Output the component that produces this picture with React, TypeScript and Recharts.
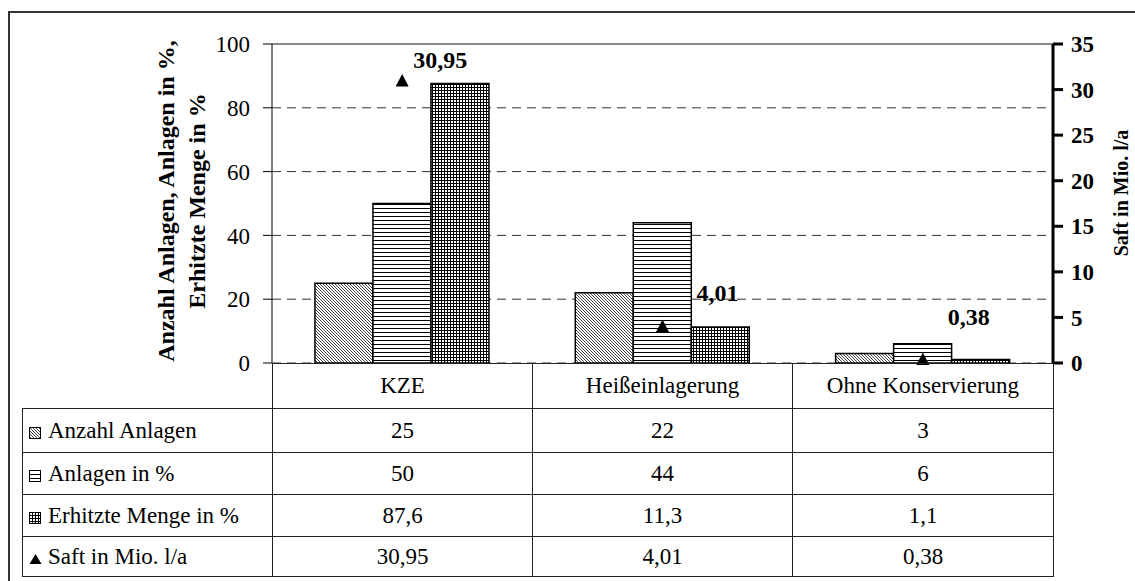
import React from "react";
import {
  ComposedChart,
  Bar,
  Line,
  XAxis,
  YAxis,
  CartesianGrid,
  ReferenceLine,
  LabelList,
} from "recharts";

const CATEGORIES = ["KZE", "Heißeinlagerung", "Ohne Konservierung"];
const ANZAHL_ANLAGEN = [25, 22, 3];
const ANLAGEN_PROZENT = [50, 44, 6];
const ERHITZTE_MENGE = [87.6, 11.3, 1.1];
const SAFT = [30.95, 4.01, 0.38];
const LEFT_TICKS = [0, 20, 40, 60, 80, 100];
const RIGHT_TICKS = [0, 5, 10, 15, 20, 25, 30, 35];

const SERIES_NAMES = [
  "Anzahl Anlagen",
  "Anlagen in %",
  "Erhitzte Menge in %",
  "Saft in Mio. l/a",
];

// hand-placed data labels (offset from the marker), like in the original sheet
const LABEL_OFFSETS = [
  { dx: 11, dy: -21 },
  { dx: 34, dy: -34 },
  { dx: 25, dy: -43 },
];

const FONT = "'Liberation Serif', 'Times New Roman', serif";

const data = CATEGORIES.map((name, i) => ({
  name,
  anzahl: ANZAHL_ANLAGEN[i],
  anlagen: ANLAGEN_PROZENT[i],
  erhitzt: ERHITZTE_MENGE[i],
  saft: SAFT[i],
}));

const fmt = (v: number) => String(v).replace(".", ",");

const Triangle = (props: any) => {
  const { cx, cy } = props;
  if (cx == null || cy == null) return null;
  return (
    <path
      d={`M${cx},${cy - 7} L${cx + 6.5},${cy + 5.5} L${cx - 6.5},${cy + 5.5} Z`}
      fill="#000"
    />
  );
};

const SaftLabel = (props: any) => {
  const { x, y, value, index } = props;
  const off = LABEL_OFFSETS[index] || { dx: 10, dy: -20 };
  return (
    <text
      x={x + off.dx}
      y={y + off.dy}
      dy="0.35em"
      fontFamily={FONT}
      fontWeight="bold"
      fontSize={24}
      fill="#000"
    >
      {fmt(value)}
    </text>
  );
};

const Swatch = ({ idx }: { idx: number }) => {
  if (idx === 3) {
    return (
      <svg width={13} height={12} style={{ marginRight: 6, verticalAlign: "-1px" }}>
        <path d="M6.5,1 L12.5,11 L0.5,11 Z" fill="#000" />
      </svg>
    );
  }
  const fills = ["url(#pDiag)", "url(#pHoriz)", "url(#pGrid)"];
  return (
    <svg width={13} height={12} style={{ marginRight: 6, verticalAlign: "-1px" }}>
      <rect x={0.5} y={0.5} width={11} height={11} fill={fills[idx]} stroke="#000" />
    </svg>
  );
};

const RotatedTitle = ({
  cx,
  cy,
  w,
  h,
  lines,
  size,
}: {
  cx: number;
  cy: number;
  w: number;
  h: number;
  lines: string[];
  size: number;
}) => (
  <div
    style={{
      position: "absolute",
      left: cx - w / 2,
      top: cy - h / 2,
      width: w,
      height: h,
      transform: "rotate(-90deg)",
      fontFamily: FONT,
      fontWeight: "bold",
      fontSize: size,
      lineHeight: `${h / lines.length}px`,
      textAlign: "center",
      whiteSpace: "nowrap",
    }}
  >
    {lines.map((l) => (
      <div key={l}>{l}</div>
    ))}
  </div>
);

const tableRows = [ANZAHL_ANLAGEN, ANLAGEN_PROZENT, ERHITZTE_MENGE, SAFT];
const ROW_HEIGHTS = [44, 42, 42, 40];

const cell: React.CSSProperties = {
  border: "1px solid #222",
  textAlign: "center",
  padding: 0,
  fontSize: 23,
  fontFamily: FONT,
  color: "#000",
};

export default function App() {
  return (
    <div
      style={{
        position: "absolute",
        left: 0,
        top: 0,
        width: 1135,
        height: 581,
        overflow: "hidden",
        background: "#fff",
      }}
    >
      {/* outer frame */}
      <div
        style={{
          position: "absolute",
          left: 8,
          top: 11,
          width: 2000,
          height: 2000,
          borderTop: "2px solid #333",
          borderLeft: "2px solid #333",
        }}
      />

      <div style={{ position: "absolute", left: 0, top: 0 }}>
        <ComposedChart
          width={1135}
          height={581}
          data={data}
          margin={{ top: 44, right: 22, bottom: 218, left: 212 }}
          barCategoryGap="16.5%"
          barGap={0}
        >
          <defs>
            <pattern id="pDiag" patternUnits="userSpaceOnUse" width="3" height="3">
              <rect width="3" height="3" fill="#fff" />
              <path d="M-1,-1 L4,4 M-1,2 L1,4 M2,-1 L4,1" stroke="#444" strokeWidth="1" />
            </pattern>
            <pattern id="pHoriz" patternUnits="userSpaceOnUse" width="4" height="4">
              <rect width="4" height="4" fill="#fff" />
              <path d="M0,0.5 H4" stroke="#000" strokeWidth="1" />
            </pattern>
            <pattern id="pGrid" patternUnits="userSpaceOnUse" width="3" height="3">
              <rect width="3" height="3" fill="#fff" />
              <path d="M0,0.5 H3 M0.5,0 V3" stroke="#000" strokeWidth="1" />
            </pattern>
          </defs>
          <CartesianGrid
            yAxisId="left"
            vertical={false}
            stroke="#333"
            strokeDasharray="9 6"
          />
          <XAxis dataKey="name" hide />
          <YAxis
            yAxisId="left"
            domain={[0, 100]}
            ticks={LEFT_TICKS}
            interval={0}
            width={60}
            axisLine={{ stroke: "#000" }}
            tickLine={{ stroke: "#000" }}
            tickSize={9}
            tickMargin={13}
            tick={{ fill: "#000", fontSize: 23, fontFamily: FONT }}
          />
          <YAxis
            yAxisId="right"
            orientation="right"
            domain={[0, 35]}
            ticks={RIGHT_TICKS}
            interval={0}
            width={60}
            axisLine={{ stroke: "#000", strokeWidth: 3 }}
            tickLine={{ stroke: "#000", strokeWidth: 3 }}
            tickSize={10}
            tickMargin={8}
            tick={{ fill: "#000", fontSize: 23, fontWeight: "bold", fontFamily: FONT }}
          />
          <ReferenceLine yAxisId="left" y={100} stroke="#888" strokeWidth={2} />
          <Bar
            yAxisId="left"
            dataKey="anzahl"
            name={SERIES_NAMES[0]}
            fill="url(#pDiag)"
            stroke="#000"
            strokeWidth={1.5}
            isAnimationActive={false}
          />
          <Bar
            yAxisId="left"
            dataKey="anlagen"
            name={SERIES_NAMES[1]}
            fill="url(#pHoriz)"
            stroke="#000"
            strokeWidth={1.5}
            isAnimationActive={false}
          />
          <Bar
            yAxisId="left"
            dataKey="erhitzt"
            name={SERIES_NAMES[2]}
            fill="url(#pGrid)"
            stroke="#000"
            strokeWidth={1.5}
            isAnimationActive={false}
          />
          <Line
            yAxisId="right"
            dataKey="saft"
            name={SERIES_NAMES[3]}
            stroke="none"
            dot={<Triangle />}
            activeDot={false}
            isAnimationActive={false}
          >
            <LabelList dataKey="saft" content={<SaftLabel />} />
          </Line>
        </ComposedChart>
      </div>

      <RotatedTitle
        cx={182}
        cy={201}
        w={340}
        h={62}
        size={24}
        lines={["Anzahl Anlagen, Anlagen in %,", "Erhitzte Menge in %"]}
      />
      <RotatedTitle cx={1121} cy={193} w={200} h={26} size={20} lines={["Saft in Mio. l/a"]} />

      <table
        style={{
          position: "absolute",
          left: 22,
          top: 363,
          width: 1031,
          borderCollapse: "collapse",
          tableLayout: "fixed",
        }}
      >
        <colgroup>
          <col style={{ width: 250 }} />
          <col style={{ width: 260 }} />
          <col style={{ width: 260 }} />
          <col style={{ width: 261 }} />
        </colgroup>
        <tbody>
          <tr style={{ height: 45 }}>
            <td style={{ ...cell, border: "none" }} />
            {CATEGORIES.map((c) => (
              <td key={c} style={cell}>
                {c}
              </td>
            ))}
          </tr>
          {tableRows.map((row, i) => (
            <tr key={SERIES_NAMES[i]} style={{ height: ROW_HEIGHTS[i] }}>
              <td style={{ ...cell, textAlign: "left", paddingLeft: 6, whiteSpace: "nowrap" }}>
                <Swatch idx={i} />
                {SERIES_NAMES[i]}
              </td>
              {row.map((v, j) => (
                <td key={j} style={cell}>
                  {fmt(v)}
                </td>
              ))}
            </tr>
          ))}
        </tbody>
      </table>
    </div>
  );
}
